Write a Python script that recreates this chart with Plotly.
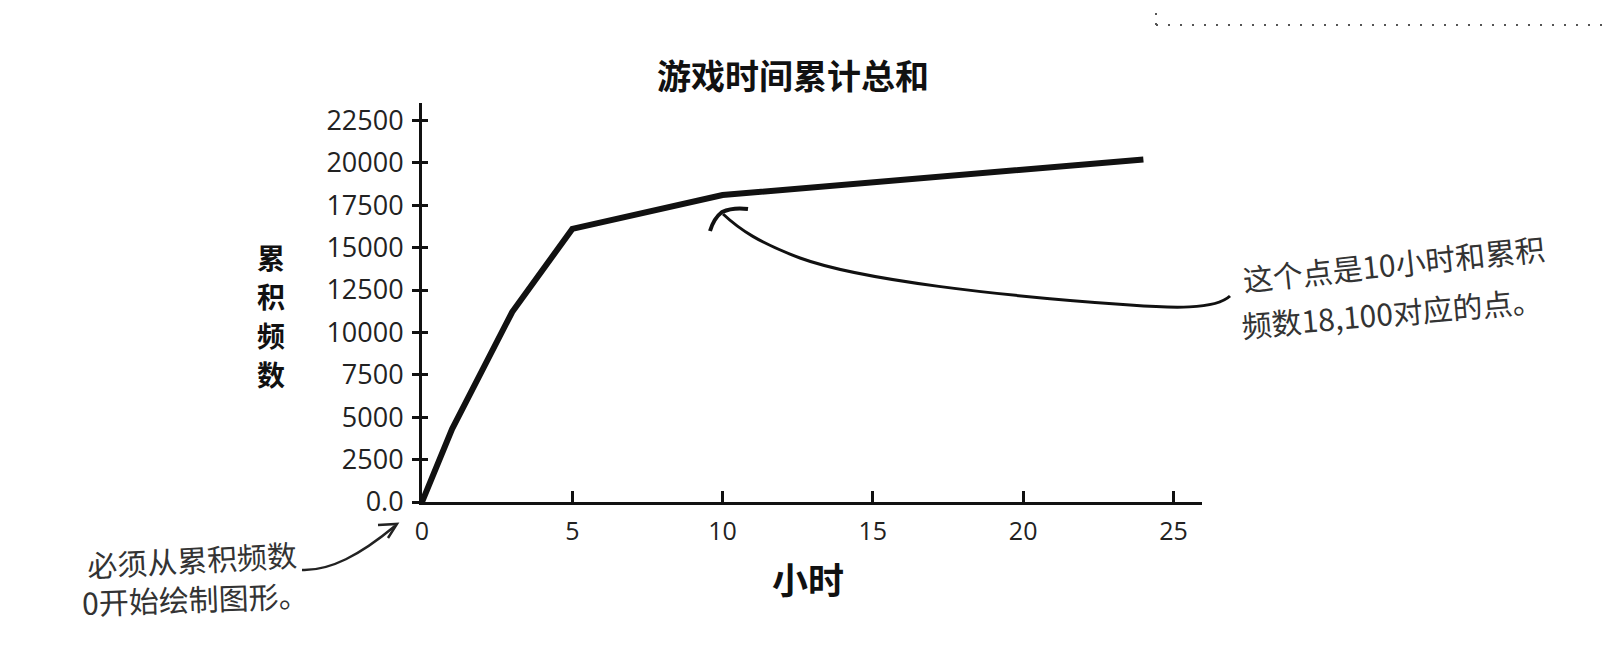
import plotly.graph_objects as go

# ---- data ----
hours = [0, 1, 3, 5, 10, 24]
cum_freq = [0, 4300, 11200, 16100, 18100, 20200]
x_ticks = [0, 5, 10, 15, 20, 25]
x_tick_text = ["0", "5", "10", "15", "20", "25"]
y_ticks = [0, 2500, 5000, 7500, 10000, 12500, 15000, 17500, 20000, 22500]
y_tick_text = ["0.0", "2500", "5000", "7500", "10000", "12500", "15000", "17500", "20000", "22500"]
title_text = "游戏时间累计总和"
x_title = "小时"
y_title_chars = ["累", "积", "频", "数"]
note_right = ["这个点是10小时和累积", "频数18,100对应的点。"]
note_left = ["必须从累积频数", "0开始绘制图形。"]

# ---- layout geometry (page pixels; page body has 8px margin) ----
OFF = 8
W, H = 1614 - 2 * OFF, 664 - 2 * OFF
L, R, T, B = 422, 1202, 103, 502
X_MAX = 25.95
Y_MAX = 23526

CJK = "Noto Sans CJK SC"
NUM = "Open Sans"
HAND = "#333333"


def pp(xp, yp):
    return ((xp - L) / (R - L), (B - yp) / (B - T))


def path(cmds):
    out = []
    for c, pts in cmds:
        coords = " ".join("%.5f,%.5f" % pp(x, y) for x, y in pts)
        out.append(c + " " + coords)
    return " ".join(out)


fig = go.Figure()
fig.add_trace(go.Scatter(
    x=hours, y=cum_freq, mode="lines",
    line=dict(color="#111111", width=6),
    hoverinfo="skip", showlegend=False,
))
# overlay trace for second y axis (crossing ticks)
fig.add_trace(go.Scatter(
    x=hours, y=cum_freq, mode="lines", yaxis="y2",
    line=dict(color="rgba(0,0,0,0)", width=0),
    hoverinfo="skip", showlegend=False,
))

shapes = []
# right curved arrow
shapes.append(dict(
    type="path", xref="paper", yref="paper",
    path=path([
        ("M", [(1230, 296)]),
        ("C", [(1215, 310), (1170, 308), (1130, 305)]),
        ("C", [(1000, 296), (860, 280), (800, 258)]),
        ("C", [(760, 243), (740, 230), (723, 214)]),
    ]),
    line=dict(color="#111111", width=3),
))
shapes.append(dict(
    type="path", xref="paper", yref="paper",
    path=path([("M", [(710, 231)]), ("Q", [(714, 218), (722, 212)]), ("Q", [(733, 207), (748, 209)])]),
    line=dict(color="#111111", width=4),
))
# left curved arrow
shapes.append(dict(
    type="path", xref="paper", yref="paper",
    path=path([
        ("M", [(302, 570)]),
        ("C", [(330, 571), (360, 555), (395, 526)]),
    ]),
    line=dict(color="#222222", width=2.5),
))
shapes.append(dict(
    type="path", xref="paper", yref="paper",
    path=path([("M", [(378, 525)]), ("L", [(397, 524)]), ("L", [(388, 538)])]),
    line=dict(color="#222222", width=2.5),
))
# dotted corner at top right
x0, y0 = pp(1156, 25)
x1, _ = pp(1614, 25)
_, y2 = pp(1156, 4)
shapes.append(dict(type="line", xref="paper", yref="paper", x0=x0, y0=y0, x1=x1, y1=y0,
                   line=dict(color="#555555", width=2, dash="2px,10px")))
shapes.append(dict(type="line", xref="paper", yref="paper", x0=x0, y0=y0, x1=x0, y1=y2,
                   line=dict(color="#555555", width=2, dash="2px,8px")))

annotations = []
# x axis title
ax, ay = pp(808, 578)
annotations.append(dict(xref="paper", yref="paper", x=ax, y=ay, text="<b>%s</b>" % x_title,
                        showarrow=False, xanchor="center", yanchor="middle",
                        font=dict(family=CJK, size=36, color="#111111")))
# y axis title (stacked characters)
for i, ch in enumerate(y_title_chars):
    ax, ay = pp(271, 257 + 39 * i)
    annotations.append(dict(xref="paper", yref="paper", x=ax, y=ay, text="<b>%s</b>" % ch,
                            showarrow=False, xanchor="center", yanchor="middle", borderpad=0,
                            font=dict(family=CJK, size=28, color="#111111")))
# right note
for (cx, cy, ang), txt in zip([(1393, 263, -6), (1392, 312, -5)], note_right):
    ax, ay = pp(cx, cy)
    annotations.append(dict(xref="paper", yref="paper", x=ax, y=ay, text=txt,
                            showarrow=False, xanchor="center", yanchor="middle", textangle=ang,
                            font=dict(family=CJK, size=30, color=HAND)))
# left note
for (cx, cy, ang), txt in zip([(192, 559, -3), (196, 598, -2)], note_left):
    ax, ay = pp(cx, cy)
    annotations.append(dict(xref="paper", yref="paper", x=ax, y=ay, text=txt,
                            showarrow=False, xanchor="center", yanchor="middle", textangle=ang,
                            font=dict(family=CJK, size=30, color=HAND)))

axis_common = dict(showgrid=False, zeroline=False, showline=True, linecolor="#111111",
                   linewidth=3, tickcolor="#111111", tickwidth=2.5)

fig.update_layout(
    width=W, height=H,
    margin=dict(l=L - OFF, r=W + OFF - R, t=T - OFF, b=H + OFF - B, pad=0),
    paper_bgcolor="white", plot_bgcolor="white",
    title=dict(text="<b>%s</b>" % title_text, x=(793 - OFF) / W, y=1 - (77 - OFF) / H,
               xref="container", yref="container", xanchor="center", yanchor="middle",
               font=dict(family=CJK, size=34, color="#111111")),
    xaxis=dict(range=[0, X_MAX], tickvals=x_ticks, ticktext=x_tick_text,
               ticks="inside", ticklen=11, ticklabelstandoff=5,
               tickfont=dict(family=NUM, size=25, color="#222222"), **axis_common),
    yaxis=dict(range=[0, Y_MAX], tickvals=y_ticks, ticktext=y_tick_text,
               ticks="outside", ticklen=7, ticklabelstandoff=3,
               tickfont=dict(family=NUM, size=27, color="#222222"), **axis_common),
    yaxis2=dict(range=[0, Y_MAX], overlaying="y", side="left", anchor="x",
                tickvals=y_ticks, showticklabels=False, ticks="inside", ticklen=6,
                showgrid=False, zeroline=False, showline=False,
                tickcolor="#111111", tickwidth=2.5),
    shapes=shapes,
    annotations=annotations,
    showlegend=False,
)

fig.write_html("out.html")
